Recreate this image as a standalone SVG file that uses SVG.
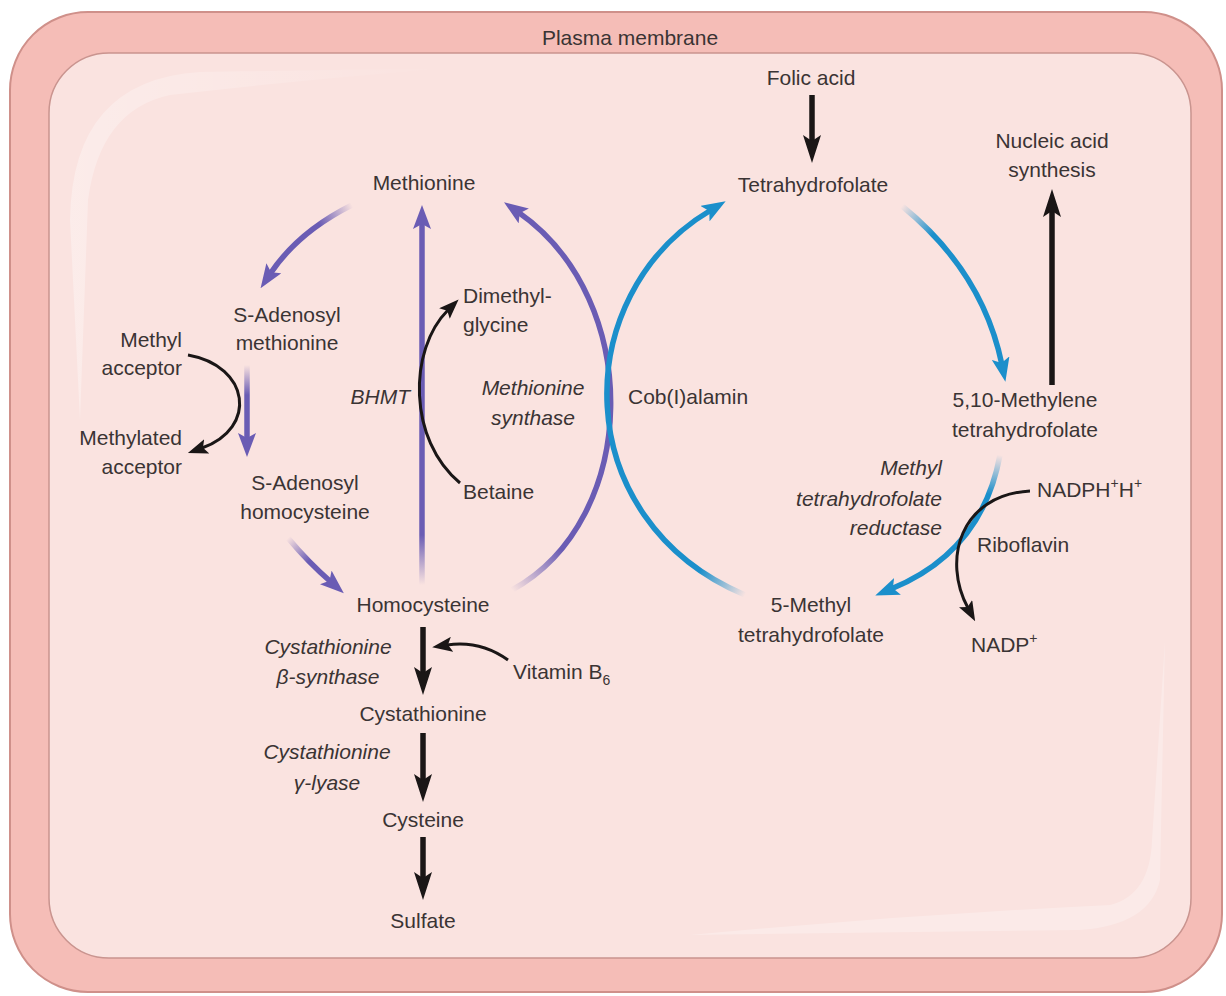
<svg xmlns="http://www.w3.org/2000/svg" width="1226" height="996" viewBox="0 0 1226 996">
<style>
text{font-family:"Liberation Sans",Arial,sans-serif;font-size:21px;fill:#3a3434}
.it{font-style:italic}
.m{text-anchor:middle}
.e{text-anchor:end}
.kb{fill:none;stroke:#1a1616;stroke-width:5.5}
.kt{fill:none;stroke:#1a1616;stroke-width:3}
.pu{fill:none;stroke-width:5.5}
.bl{fill:none;stroke-width:5.5}
</style>
<defs>
<marker id="ahK" viewBox="0 0 28 18" markerWidth="28" markerHeight="18" refX="8" refY="9" orient="auto" markerUnits="userSpaceOnUse"><path d="M0,0 L28,9 L0,18 L6,9 z" fill="#1a1616"/></marker>
<marker id="ahKs" viewBox="0 0 20 15" markerWidth="20" markerHeight="15" refX="5" refY="7.5" orient="auto" markerUnits="userSpaceOnUse"><path d="M0,0 L20,7.5 L0,15 L4,7.5 z" fill="#1a1616"/></marker>
<marker id="ahP" viewBox="0 0 24 18" markerWidth="24" markerHeight="18" refX="7" refY="9" orient="auto" markerUnits="userSpaceOnUse"><path d="M0,0 L24,9 L0,18 L5,9 z" fill="#6a5cb4"/></marker>
<marker id="ahB" viewBox="0 0 24 18" markerWidth="24" markerHeight="18" refX="7" refY="9" orient="auto" markerUnits="userSpaceOnUse"><path d="M0,0 L24,9 L0,18 L5,9 z" fill="#1b8fcb"/></marker>
<linearGradient id="gP1" gradientUnits="userSpaceOnUse" x1="352" y1="205" x2="318" y2="222"><stop offset="0" stop-color="#6a5cb4" stop-opacity="0"/><stop offset="1" stop-color="#6a5cb4"/></linearGradient>
<linearGradient id="gP2" gradientUnits="userSpaceOnUse" x1="247" y1="365" x2="247" y2="395"><stop offset="0" stop-color="#6a5cb4" stop-opacity="0"/><stop offset="1" stop-color="#6a5cb4"/></linearGradient>
<linearGradient id="gP3" gradientUnits="userSpaceOnUse" x1="288" y1="538" x2="310" y2="560"><stop offset="0" stop-color="#6a5cb4" stop-opacity="0"/><stop offset="1" stop-color="#6a5cb4"/></linearGradient>
<linearGradient id="gP4" gradientUnits="userSpaceOnUse" x1="422" y1="585" x2="422" y2="535"><stop offset="0" stop-color="#6a5cb4" stop-opacity="0"/><stop offset="1" stop-color="#6a5cb4"/></linearGradient>
<linearGradient id="gP5" gradientUnits="userSpaceOnUse" x1="512" y1="590" x2="560" y2="548"><stop offset="0" stop-color="#6a5cb4" stop-opacity="0"/><stop offset="1" stop-color="#6a5cb4"/></linearGradient>
<linearGradient id="gB1" gradientUnits="userSpaceOnUse" x1="745" y1="595" x2="700" y2="570"><stop offset="0" stop-color="#1b8fcb" stop-opacity="0"/><stop offset="1" stop-color="#1b8fcb"/></linearGradient>
<linearGradient id="gB2" gradientUnits="userSpaceOnUse" x1="902" y1="206" x2="935" y2="232"><stop offset="0" stop-color="#1b8fcb" stop-opacity="0"/><stop offset="1" stop-color="#1b8fcb"/></linearGradient>
<linearGradient id="gB3" gradientUnits="userSpaceOnUse" x1="1000" y1="455" x2="993" y2="495"><stop offset="0" stop-color="#1b8fcb" stop-opacity="0"/><stop offset="1" stop-color="#1b8fcb"/></linearGradient>
<linearGradient id="hl" x1="0" y1="0" x2="1" y2="0"><stop offset="0" stop-color="#ffffff" stop-opacity="0.7"/><stop offset="1" stop-color="#ffffff" stop-opacity="0"/></linearGradient>
</defs>

<g id="membrane">
<rect x="10" y="12" width="1212" height="980" rx="78" ry="78" fill="#f5bdb7" stroke="#cf908a" stroke-width="2"/>
<rect x="49" y="53" width="1142" height="905" rx="60" ry="60" fill="#fae3e0" stroke="#c9948f" stroke-width="1.5"/>
<path d="M70 220 Q72 80 200 72 L450 68 Q300 80 170 95 Q100 110 88 200 L80 420 Z" fill="url(#hl)" opacity="0.45"/>
<path d="M1165 640 L1160 880 Q1150 925 1080 930 L690 935 Q900 915 1110 905 Q1150 895 1152 840 Z" fill="#ffffff" opacity="0.25"/>
<text class="m" x="630" y="45" font-size="22">Plasma membrane</text>
</g>

<g id="connectors">
<path class="kb" d="M812 95 V143" marker-end="url(#ahK)"/>
<path class="kb" d="M1052 385 V209" marker-end="url(#ahK)"/>
<path class="kb" d="M423 627 V675" marker-end="url(#ahK)"/>
<path class="kb" d="M423 733 V782" marker-end="url(#ahK)"/>
<path class="kb" d="M423 837 V880" marker-end="url(#ahK)"/>
<path class="pu" stroke="url(#gP4)" d="M422 585 V222" marker-end="url(#ahP)"/>
<path class="pu" stroke="url(#gP1)" d="M352 205 Q298 232 270 274" marker-end="url(#ahP)"/>
<path class="pu" stroke="url(#gP2)" d="M247 365 V440" marker-end="url(#ahP)"/>
<path class="pu" stroke="url(#gP3)" d="M288 538 Q308 562 331 582" marker-end="url(#ahP)"/>
<path class="pu" stroke="url(#gP5)" d="M512 590 C640 520 645 300 518 212" marker-end="url(#ahP)"/>
<path class="bl" stroke="url(#gB1)" d="M745 595 C567 520 567 295 711 210" marker-end="url(#ahB)"/>
<path class="bl" stroke="url(#gB2)" d="M902 206 Q983 272 1002 365" marker-end="url(#ahB)"/>
<path class="bl" stroke="url(#gB3)" d="M1000 455 Q982 552 891 589" marker-end="url(#ahB)"/>
<path class="kt" d="M188 355 C250 366 258 428 202 448" marker-end="url(#ahKs)"/>
<path class="kt" d="M460 483 C408 440 408 350 448 310" marker-end="url(#ahKs)"/>
<path class="kt" d="M508 660 Q480 640 447 645" marker-end="url(#ahKs)"/>
<path class="kt" d="M1030 491 C960 495 942 560 968 608" marker-end="url(#ahKs)"/>
</g>

<g id="folic-acid"><text class="m" x="811" y="85">Folic acid</text></g>
<g id="tetrahydrofolate"><text class="m" x="813" y="192">Tetrahydrofolate</text></g>
<g id="nucleic-acid"><text class="m" x="1052" y="148">Nucleic acid</text><text class="m" x="1052" y="177">synthesis</text></g>
<g id="methionine"><text class="m" x="424" y="190">Methionine</text></g>
<g id="sam"><text class="m" x="287" y="322">S-Adenosyl</text><text class="m" x="287" y="350">methionine</text></g>
<g id="methyl-acceptor"><text class="e" x="182" y="347">Methyl</text><text class="e" x="182" y="375">acceptor</text></g>
<g id="methylated-acceptor"><text class="e" x="182" y="445">Methylated</text><text class="e" x="182" y="474">acceptor</text></g>
<g id="sah"><text class="m" x="305" y="490">S-Adenosyl</text><text class="m" x="305" y="519">homocysteine</text></g>
<g id="homocysteine"><text class="m" x="423" y="612">Homocysteine</text></g>
<g id="dimethylglycine"><text x="463" y="303">Dimethyl-</text><text x="463" y="332">glycine</text></g>
<g id="bhmt"><text class="e it" x="410" y="404">BHMT</text></g>
<g id="methionine-synthase"><text class="m it" x="533" y="395">Methionine</text><text class="m it" x="533" y="425">synthase</text></g>
<g id="betaine"><text x="463" y="499">Betaine</text></g>
<g id="cobalamin"><text x="628" y="404">Cob(I)alamin</text></g>
<g id="methylene-thf"><text class="m" x="1025" y="407">5,10-Methylene</text><text class="m" x="1025" y="437">tetrahydrofolate</text></g>
<g id="mthfr"><text class="e it" x="942" y="475">Methyl</text><text class="e it" x="942" y="506">tetrahydrofolate</text><text class="e it" x="942" y="535">reductase</text></g>
<g id="nadph"><text x="1037" y="497">NADPH<tspan font-size="14" dy="-9">+</tspan><tspan dy="9">H</tspan><tspan font-size="14" dy="-9">+</tspan></text></g>
<g id="riboflavin"><text x="977" y="552">Riboflavin</text></g>
<g id="nadp"><text x="971" y="652">NADP<tspan font-size="14" dy="-9">+</tspan></text></g>
<g id="methyl-thf"><text class="m" x="811" y="612">5-Methyl</text><text class="m" x="811" y="642">tetrahydrofolate</text></g>
<g id="cbs"><text class="m it" x="328" y="654">Cystathionine</text><text class="m it" x="328" y="684">β-synthase</text></g>
<g id="vitamin-b6"><text x="513" y="679">Vitamin B<tspan font-size="14" dy="6">6</tspan></text></g>
<g id="cystathionine"><text class="m" x="423" y="721">Cystathionine</text></g>
<g id="cgl"><text class="m it" x="327" y="759">Cystathionine</text><text class="m it" x="327" y="790">γ-lyase</text></g>
<g id="cysteine"><text class="m" x="423" y="827">Cysteine</text></g>
<g id="sulfate"><text class="m" x="423" y="928">Sulfate</text></g>
</svg>
